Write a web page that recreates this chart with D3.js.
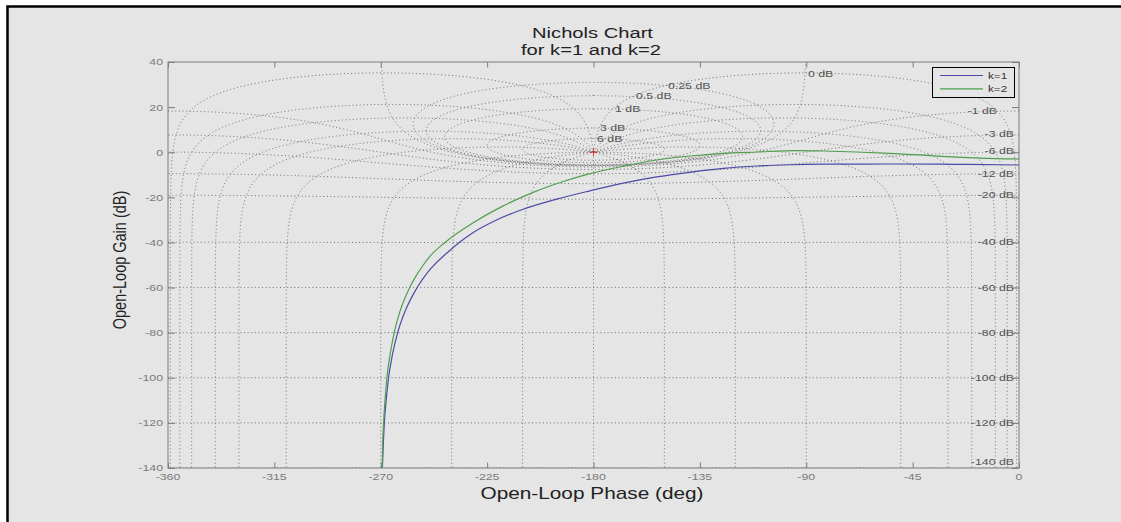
<!DOCTYPE html>
<html>
<head>
<meta charset="utf-8">
<script src="https://cdn.jsdelivr.net/npm/d3@7"></script>
<style>
  body { margin: 0; background: #fff; }
  svg { display: block; }
  text { font-family: "Liberation Sans", Arial, Helvetica, sans-serif; }
</style>
</head>
<body>
<svg id="chart" width="1121" height="522"></svg>
<script>
// ---- data ----
const phaseTicks = [-360, -315, -270, -225, -180, -135, -90, -45, 0];
const gainTicks = [40, 20, 0, -20, -40, -60, -80, -100, -120, -140];

// k=1 (blue)
const k1Phase = [-269.3, -268.95, -268.5, -267.7, -266.7, -265.1, -262.85, -259.5, -254.6, -250.5, -247.4, -241.3, -236.8, -231.5, -221.0, -209.8, -195.6, -181.5, -167.4, -153.3, -139.2, -125.1, -111.0, -96.9, -82.8, -54.6, -26.4, 0];
const k1Gain  = [-140, -130, -120, -110, -100, -90, -80, -70, -60, -53.7, -50, -44, -40, -36, -30.05, -25.3, -20.8, -17.1, -13.7, -10.95, -8.9, -7.2, -6.1, -5.55, -5.3, -5.22, -5.35, -5.66];

// k=2 (green)
const k2Phase = [-269.4, -269.2, -268.8, -268.2, -267.4, -266.1, -264.3, -261.7, -257.75, -256.1, -252.0, -249.3, -242.8, -230.9, -218.2, -205.5, -192.8, -181.5, -167.4, -153.3, -139.2, -125.1, -111.0, -94.1, -82.8, -54.6, -37.7, -26.4, -16.5, 0];
const k2Gain  = [-140, -130, -120, -110, -100, -90, -80, -70, -60, -56.7, -50, -46.3, -40, -31.3, -23.8, -17.8, -13.0, -9.5, -6.2, -3.45, -1.67, -0.48, 0.1, 0.68, 0.54, -0.48, -1.54, -2.2, -2.6, -3.0];

// Nichols grid: closed-loop gain (dB) and phase (deg) contour values
const gridGains = [6, 3, 1, 0.5, 0.25, 0, -1, -3, -6, -12, -20, -40, -60, -80, -100, -120, -140];
const gridPhases = [1, 5, 10, 20, 30, 50, 90, 120, 150, 180];

// contour labels (left aligned, near the critical point)
const posLabels = ["6 dB", "3 dB", "1 dB", "0.5 dB", "0.25 dB", "0 dB"];
const posLabelPhase = [-178.5, -177.3, -170.9, -162.0, -148.5, -89.3];
const posLabelGain = [6.0, 11.05, 19.3, 24.9, 29.7, 35.0];

// contour labels (right aligned, at the right edge)
const negLabels = ["-1 dB", "-3 dB", "-6 dB", "-12 dB", "-20 dB", "-40 dB", "-60 dB", "-80 dB", "-100 dB", "-120 dB", "-140 dB"];
const negLabelPhase = [-9.3, -2.1, -2.1, -2.1, -2.1, -2.1, -2.1, -2.1, -2.1, -2.1, -2.1];
const negLabelGain = [18.4, 8.1, 0.7, -9.5, -19.0, -39.8, -59.9, -79.8, -100.0, -119.9, -137.2];

const seriesNames = ["k=1", "k=2"];
const seriesColors = ["#4b4ba6", "#4f9e4f"];

// ---- layout ----
const svg = d3.select("#chart");
const W = 1121, H = 522;
const plot = { left: 168, top: 62, right: 1019, bottom: 468 };
const sx = 1.3; // the picture is stretched sideways

const x = d3.scaleLinear().domain([-360, 0]).range([plot.left, plot.right]);
const y = d3.scaleLinear().domain([-140, 40]).range([plot.bottom, plot.top]);

// figure frame
svg.append("rect").attr("x", 0).attr("y", 0).attr("width", W).attr("height", H).attr("fill", "#fff");
svg.append("rect")
  .attr("x", 7.5).attr("y", 6.5).attr("width", 1140).attr("height", 540)
  .attr("fill", "#e5e5e5").attr("stroke", "#000").attr("stroke-width", 2.5);

svg.append("defs").append("clipPath").attr("id", "plotclip")
  .append("rect")
  .attr("x", plot.left).attr("y", plot.top)
  .attr("width", plot.right - plot.left).attr("height", plot.bottom - plot.top);

function stext(parent, str, px, py, size, anchor, color) {
  return parent.append("text")
    .attr("transform", "translate(" + px + "," + py + ") scale(" + sx + ",1)")
    .attr("text-anchor", anchor)
    .attr("font-size", size)
    .attr("fill", color)
    .text(str);
}

// ---- Nichols grid ----
function toNichols(re, im) {
  const mag = Math.hypot(re, im);
  let ph = Math.atan2(im, re) * 180 / Math.PI;
  if (ph > 0) ph -= 360;
  let g = 20 * Math.log10(mag);
  g = Math.max(-220, Math.min(120, g));
  return [ph, g];
}
// open loop L = T/(1-T) for closed loop T = m*e^(j a)
function openLoop(m, aDeg) {
  const a = aDeg * Math.PI / 180;
  const tr = m * Math.cos(a), ti = m * Math.sin(a);
  const dr = 1 - tr, di = -ti;
  const den = dr * dr + di * di;
  return [(tr * dr + ti * di) / den, (ti * dr - tr * di) / den];
}

const alphaSamples = [];
for (let e = -2.5; e <= Math.log10(180); e += 0.004) alphaSamples.push(-Math.pow(10, e));
alphaSamples.push(-180);
for (let e = Math.log10(180); e >= -2.5; e -= 0.004) alphaSamples.push(-360 + Math.pow(10, e));

const magSamples = [];
for (let g = -170; g <= 70; g += (Math.abs(g) < 6 ? 0.005 : 0.2)) magSamples.push(Math.pow(10, g / 20));

const gridLine = d3.line().x(d => x(d[0])).y(d => y(d[1]));
const gridG = svg.append("g").attr("clip-path", "url(#plotclip)")
  .attr("fill", "none").attr("stroke", "#6a6a6a").attr("stroke-width", 1)
  .attr("stroke-dasharray", "1,2.6");

gridGains.forEach(function(gdb) {
  const m = Math.pow(10, gdb / 20);
  let pts;
  if (m < 1) {
    pts = alphaSamples.map(function(a) {
      const L = openLoop(m, a);
      const ar = Math.atan2(-m * Math.sin(a * Math.PI / 180), 1 - m * Math.cos(a * Math.PI / 180)) * 180 / Math.PI;
      return [a - ar, 20 * Math.log10(Math.hypot(L[0], L[1]))];
    });
  } else {
    pts = alphaSamples.map(a => { const L = openLoop(m, a); return toNichols(L[0], L[1]); });
  }
  gridG.append("path").attr("d", gridLine(pts));
});

const phaseSet = [];
gridPhases.forEach(p => { phaseSet.push(-p); if (p !== 180) phaseSet.push(-360 + p); });
phaseSet.forEach(function(a) {
  const pts = magSamples.map(m => { const L = openLoop(m, a); return toNichols(L[0], L[1]); });
  gridG.append("path").attr("d", gridLine(pts));
});

// ---- axes box and ticks ----
const axisColor = "#7d7d7d";
const axG = svg.append("g").attr("stroke", axisColor).attr("stroke-width", 1).attr("fill", "none");
axG.append("rect").attr("x", plot.left).attr("y", plot.top)
  .attr("width", plot.right - plot.left).attr("height", plot.bottom - plot.top);

const xAxisB = d3.axisBottom(x).tickValues(phaseTicks).tickSize(-5.5).tickFormat("");
const xAxisT = d3.axisTop(x).tickValues(phaseTicks).tickSize(-5.5).tickFormat("");
const yAxisL = d3.axisLeft(y).tickValues(gainTicks).tickSize(-7).tickFormat("");
const yAxisR = d3.axisRight(y).tickValues(gainTicks).tickSize(-7).tickFormat("");
[[xAxisB, "translate(0," + plot.bottom + ")"], [xAxisT, "translate(0," + plot.top + ")"],
 [yAxisL, "translate(" + plot.left + ",0)"], [yAxisR, "translate(" + plot.right + ",0)"]].forEach(function(a) {
  const g = svg.append("g").attr("transform", a[1]).call(a[0]);
  g.select(".domain").remove();
  g.selectAll("line").attr("stroke", axisColor);
});

const tickG = svg.append("g");
phaseTicks.forEach(v => stext(tickG, v, x(v), plot.bottom + 11.5, 9.5, "middle", "#7a7a7a"));
gainTicks.forEach(v => stext(tickG, v, plot.left - 5, y(v) + 3.4, 9.5, "end", "#7a7a7a"));

// ---- contour labels ----
const labG = svg.append("g");
posLabels.forEach((s, i) => stext(labG, s, x(posLabelPhase[i]), y(posLabelGain[i]) + 3.4, 9.5, "start", "#555"));
negLabels.forEach((s, i) => stext(labG, s, x(negLabelPhase[i]), y(negLabelGain[i]) + 3.4, 9.5, "end", "#555"));

// ---- response curves ----
const curve = d3.line().x(d => x(d[0])).y(d => y(d[1])).curve(d3.curveMonotoneX);
const curveG = svg.append("g").attr("clip-path", "url(#plotclip)").attr("fill", "none").attr("stroke-width", 1.2);
curveG.append("path").attr("d", curve(d3.zip(k1Phase, k1Gain))).attr("stroke", seriesColors[0]);
curveG.append("path").attr("d", curve(d3.zip(k2Phase, k2Gain))).attr("stroke", seriesColors[1]);

// critical point
svg.append("g").attr("stroke", "#d83c3c").attr("stroke-width", 1)
  .call(g => {
    g.append("line").attr("x1", x(-180) - 4).attr("x2", x(-180) + 4).attr("y1", y(0)).attr("y2", y(0));
    g.append("line").attr("x1", x(-180)).attr("x2", x(-180)).attr("y1", y(0) - 4).attr("y2", y(0) + 4);
  });

// ---- legend ----
const leg = svg.append("g");
leg.append("rect").attr("x", 932.5).attr("y", 67.5).attr("width", 82).attr("height", 30)
  .attr("fill", "#e5e5e5").attr("stroke", "#000").attr("stroke-width", 1);
seriesNames.forEach(function(n, i) {
  const ly = 75.5 + i * 13.3;
  leg.append("line").attr("x1", 940).attr("x2", 983).attr("y1", ly).attr("y2", ly)
    .attr("stroke", seriesColors[i]).attr("stroke-width", 1.2);
  stext(leg, n, 988, ly + 3.3, 9, "start", "#333");
});

// ---- titles ----
stext(svg, "Nichols Chart", 592.5, 37.5, 15.5, "middle", "#222");
stext(svg, "for k=1 and k=2", 591, 55, 15.5, "middle", "#222");
stext(svg, "Open-Loop Phase (deg)", 592, 499, 16, "middle", "#222");
svg.append("text")
  .attr("transform", "translate(126," + ((plot.top + plot.bottom) / 2 - 5) + ") scale(" + sx + ",1) rotate(-90)")
  .attr("text-anchor", "middle").attr("font-size", 14.5).attr("fill", "#222")
  .text("Open-Loop Gain (dB)");
</script>
</body>
</html>
